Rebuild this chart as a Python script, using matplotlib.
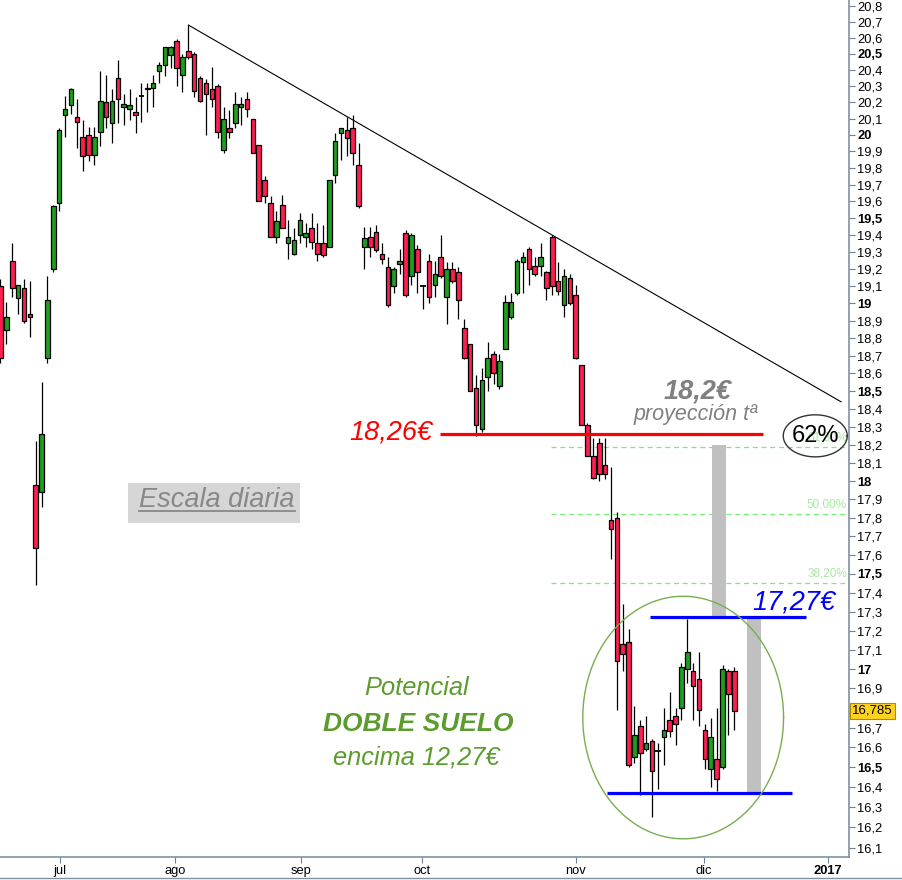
import matplotlib
matplotlib.use('Agg')
import matplotlib.pyplot as plt
from matplotlib.ticker import FixedLocator, NullLocator
from matplotlib.lines import Line2D
import numpy as np

plt.rcParams['font.family'] = ['Liberation Sans', 'DejaVu Sans']

# velas diarias (jun-dic 2016)
opens = [19.10, 18.85, 19.25, 19.03, 19.09, 18.94, 17.98, 17.94, 18.69, 19.20,
         19.59, 20.12, 20.18, 20.11, 19.99, 20.00, 19.88, 20.02, 20.20, 20.07,
         20.35, 20.17, 20.16, 20.14, 20.24, 20.28, 20.29, 20.39, 20.43, 20.49,
         20.58, 20.37, 20.52, 20.50, 20.35, 20.32, 20.28, 20.30, 19.91, 20.04,
         20.07, 20.17, 20.22, 20.10, 19.94, 19.73, 19.59, 19.39, 19.58, 19.35,
         19.29, 19.40, 19.39, 19.44, 19.35, 19.35, 19.33, 19.76, 20.01, 20.03,
         20.04, 19.82, 19.33, 19.39, 19.42, 19.29, 19.21, 19.10, 19.23, 19.41,
         19.16, 19.32, 19.10, 19.25, 19.11, 19.27, 19.04, 19.20, 19.18, 18.86,
         18.77, 18.52, 18.29, 18.58, 18.71, 18.53, 18.74, 18.92, 19.06, 19.24,
         19.32, 19.22, 19.22, 19.18, 19.39, 19.13, 18.99, 19.15, 19.05, 18.65,
         18.31, 18.14, 18.21, 18.09, 17.79, 17.80, 17.13, 17.14, 16.55, 16.71,
         16.59, 16.63, 16.58, 16.65, 16.74, 16.76, 16.80, 17.00, 16.99, 16.95,
         16.69, 16.49, 16.54, 16.50, 16.99, 16.99]
highs = [19.14, 19.01, 19.35, 19.11, 19.14, 19.13, 18.22, 18.55, 19.16, 19.58,
         20.04, 20.24, 20.29, 20.22, 20.09, 20.05, 20.05, 20.39, 20.37, 20.28,
         20.46, 20.25, 20.28, 20.23, 20.32, 20.32, 20.37, 20.45, 20.54, 20.55,
         20.59, 20.50, 20.68, 20.51, 20.36, 20.34, 20.42, 20.31, 20.17, 20.15,
         20.26, 20.23, 20.26, 20.10, 19.94, 19.75, 19.63, 19.54, 19.64, 19.49,
         19.44, 19.53, 19.47, 19.53, 19.47, 19.46, 19.73, 20.01, 20.04, 20.11,
         20.12, 19.95, 19.45, 19.45, 19.46, 19.35, 19.27, 19.21, 19.32, 19.43,
         19.41, 19.34, 19.11, 19.29, 19.25, 19.40, 19.24, 19.24, 19.21, 18.91,
         18.77, 18.59, 18.63, 18.78, 18.73, 18.71, 19.05, 19.06, 19.26, 19.30,
         19.33, 19.27, 19.35, 19.19, 19.40, 19.24, 19.20, 19.17, 19.11, 18.65,
         18.32, 18.24, 18.24, 18.24, 18.08, 17.83, 17.34, 17.21, 16.81, 16.74,
         16.76, 16.64, 16.62, 16.80, 16.88, 16.80, 17.03, 17.26, 17.03, 17.09,
         16.72, 16.75, 16.80, 17.02, 17.00, 17.01]
lows = [18.66, 18.77, 19.04, 18.94, 18.89, 18.81, 17.44, 17.86, 18.66, 19.18,
        19.54, 19.99, 20.13, 19.92, 19.78, 19.84, 19.82, 19.93, 20.04, 19.95,
        20.07, 20.06, 20.09, 20.01, 20.08, 20.14, 20.17, 20.32, 20.36, 20.41,
        20.30, 20.26, 20.47, 20.23, 20.20, 20.00, 20.17, 19.98, 19.89, 19.98,
        20.04, 20.06, 20.11, 19.89, 19.60, 19.59, 19.39, 19.35, 19.44, 19.26,
        19.28, 19.35, 19.33, 19.32, 19.25, 19.27, 19.33, 19.71, 19.85, 19.87,
        19.82, 19.56, 19.20, 19.27, 19.30, 19.23, 18.98, 19.06, 19.17, 19.04,
        19.11, 19.06, 18.97, 19.00, 19.04, 19.15, 18.88, 19.12, 18.91, 18.68,
        18.50, 18.25, 18.27, 18.50, 18.54, 18.51, 18.74, 18.91, 19.05, 19.06,
        19.11, 19.16, 19.16, 19.02, 19.05, 19.05, 18.92, 18.99, 18.68, 18.31,
        18.14, 18.01, 18.00, 18.01, 17.58, 16.79, 16.99, 16.50, 16.52, 16.36,
        16.58, 16.25, 16.39, 16.51, 16.65, 16.61, 16.74, 16.93, 16.74, 16.71,
        16.49, 16.40, 16.38, 16.49, 16.66, 16.69]
closes = [18.69, 18.92, 19.09, 19.11, 18.90, 18.92, 17.64, 18.26, 19.02, 19.57,
          20.03, 20.16, 20.28, 20.08, 19.87, 19.88, 19.99, 20.21, 20.11, 20.21,
          20.22, 20.19, 20.18, 20.12, 20.24, 20.29, 20.32, 20.43, 20.54, 20.54,
          20.41, 20.48, 20.48, 20.27, 20.21, 20.25, 20.22, 20.02, 20.10, 20.02,
          20.19, 20.19, 20.16, 19.89, 19.60, 19.63, 19.39, 19.48, 19.44, 19.39,
          19.37, 19.49, 19.41, 19.36, 19.29, 19.28, 19.73, 19.96, 20.04, 19.98,
          19.89, 19.57, 19.38, 19.33, 19.31, 19.26, 18.99, 19.20, 19.25, 19.05,
          19.40, 19.18, 19.10, 19.04, 19.17, 19.16, 19.20, 19.13, 19.02, 18.69,
          18.50, 18.31, 18.56, 18.69, 18.60, 18.67, 19.01, 19.01, 19.25, 19.27,
          19.20, 19.17, 19.27, 19.09, 19.10, 19.07, 19.16, 19.00, 18.69, 18.31,
          18.14, 18.02, 18.04, 18.04, 17.74, 17.04, 17.08, 16.51, 16.66, 16.57,
          16.62, 16.48, 16.58, 16.69, 16.68, 16.72, 17.01, 17.09, 16.91, 16.79,
          16.54, 16.65, 16.44, 17.00, 16.87, 16.785]

month_labels = ['jul', 'ago', 'sep', 'oct', 'nov', 'dic', '2017']
month_pos = [10.1, 29.7, 51.2, 71.8, 98.0, 119.8, 140.9]

fib_levels = [18.19, 17.82, 17.45]
fib_labels = ['61,80%', '50,00%', '38,20%']
soporte = 18.26
techo = 17.27
suelo = 16.37
proyeccion = 18.2
ultimo = 16.785
directriz_fin = 18.44

verde = '#1ea01e'
rojo = '#ff1e50'
verde_txt = '#5c9c2c'

o = np.array(opens)
h = np.array(highs)
l = np.array(lows)
c = np.array(closes)
x = np.arange(len(o))

fig = plt.figure(figsize=(9.02, 8.8), dpi=100)
ax = fig.add_axes([0, 23 / 880, 849 / 902, 857 / 880])
ax.set_yscale('log')

# velas
ax.vlines(x, l, h, color='black', lw=0.9, zorder=3)
up = c > o
dn = c < o
fl = c == o
ax.bar(x[up], (c - o)[up], bottom=o[up], width=0.78, color=verde,
       edgecolor='black', lw=0.9, zorder=4)
ax.bar(x[dn], (o - c)[dn], bottom=c[dn], width=0.78, color=rojo,
       edgecolor='black', lw=0.9, zorder=4)
ax.hlines(o[fl], x[fl] - 0.45, x[fl] + 0.45, color='black', lw=1.3, zorder=4)

# directriz bajista
ax.plot([32, 143.2], [highs[32], directriz_fin], color='black', lw=0.8, zorder=5)

# retrocesos de Fibonacci
ax.hlines(fib_levels, 93.8, 144.6, colors='#77ee77', linestyles=(0, (4, 3)),
          lw=0.9, zorder=2)
for lvl, lab in zip(fib_levels, fib_labels):
    ax.text(144.2, lvl * 1.001, lab, ha='right', va='bottom', fontsize=8.5,
            color='#a8e8a0', zorder=2)

# proyecciones
ax.bar(122.4, proyeccion - techo, bottom=techo, width=2.3, color='#c0c0c0', zorder=2)
ax.bar(128.35, techo - suelo, bottom=suelo, width=2.3, color='#c0c0c0', zorder=2)

ax.hlines(soporte, 74.9, 129.9, color='#ff0000', lw=2.3, zorder=5)
ax.hlines(techo, 110.6, 137.3, color='#0000ff', lw=2.3, zorder=5)
ax.hlines(suelo, 103.4, 134.8, color='#0000ff', lw=2.3, zorder=5)

# elipses
t = np.linspace(0, 2 * np.pi, 300)
ax.plot(116.3 + 17.1 * np.cos(t), 16.751 * np.exp(0.0369 * np.sin(t)),
        color='#78ae50', lw=1, zorder=6)
ax.plot(138.8 + 5.45 * np.cos(t), 18.25 * np.exp(0.0064 * np.sin(t)),
        color='#333333', lw=1, zorder=6)
ax.text(138.8, 18.25, '62%', fontsize=17, ha='center', va='center', zorder=7)

# textos
ax.text(73.5, 18.27, '18,26€', color='#ff0000', fontsize=19.5, style='italic',
        ha='right', va='center')
ax.text(142.2, 17.35, '17,27€', color='#0000ff', fontsize=19.5, style='italic',
        ha='right', va='center')
ax.text(118.7, 18.50, '18,2€', color='#808080', fontsize=19.5, style='italic',
        weight='bold', ha='center', va='center')
ax.text(118.5, 18.37, 'proyección tª', color='#808080', fontsize=15.5,
        style='italic', ha='center', va='center')

ax.fill_between([21.7, 51.0], 17.77, 17.99, color='#d6d6d6', lw=0, zorder=1)
ax.text(36.9, 17.895, 'Escala diaria', color='#888888', fontsize=19.5,
        style='italic', ha='center', va='center', zorder=2)
ax.plot([23.6, 50.2], [17.84, 17.84], color='#888888', lw=1.3, zorder=2)

ax.text(70.95, 16.90, 'Potencial', color=verde_txt, fontsize=18.4,
        style='italic', ha='center', va='center')
ax.text(71.1, 16.72, 'DOBLE SUELO', color=verde_txt, fontsize=19,
        style='italic', weight='heavy', ha='center', va='center')
ax.text(70.8, 16.55, 'encima 12,27€', color=verde_txt, fontsize=18.3,
        style='italic', ha='center', va='center')

# ejes
ax.set_xlim(-0.085, 144.55)
ax.set_ylim(16.055, 20.838)

ticks = np.round(np.arange(16.1, 20.85, 0.1), 1)
labels = [f'{v:.1f}'.replace('.', ',').replace(',0', '') for v in ticks]
# la etiqueta 16,8 queda tapada por el precio actual
labels = ['' if abs(v - 16.8) < 1e-6 else s for v, s in zip(ticks, labels)]
ax.yaxis.tick_right()
ax.yaxis.set_major_locator(FixedLocator(ticks))
ax.yaxis.set_minor_locator(NullLocator())
ax.set_yticklabels(labels)
for v, tl in zip(ticks, ax.get_yticklabels()):
    if abs(v * 2 - round(v * 2)) < 1e-6:
        tl.set_fontweight('bold')
ax.tick_params(axis='y', labelsize=9.3, length=4, width=0.8, color='#708090', pad=2)

ax.set_xticks(month_pos)
ax.set_xticklabels(month_labels)
ax.get_xticklabels()[-1].set_fontweight('bold')
ax.tick_params(axis='x', labelsize=9.3, length=4, width=0.8, color='#708090', pad=1.5)

for s in ['top', 'left']:
    ax.spines[s].set_visible(False)
for s in ['right', 'bottom']:
    ax.spines[s].set_color('#8090a0')
    ax.spines[s].set_linewidth(1.2)

ax.text(1.004, ultimo, '16,785', transform=ax.get_yaxis_transform(), fontsize=9.5,
        ha='left', va='center', clip_on=False, zorder=10,
        bbox=dict(boxstyle='square,pad=0.15', fc='#ffd21f', ec='#b08a00', lw=0.8))

fig.add_artist(Line2D([0, 1], [2 / 880, 2 / 880], color='#8090a0', lw=1))

fig.savefig('out.png', dpi=100)
